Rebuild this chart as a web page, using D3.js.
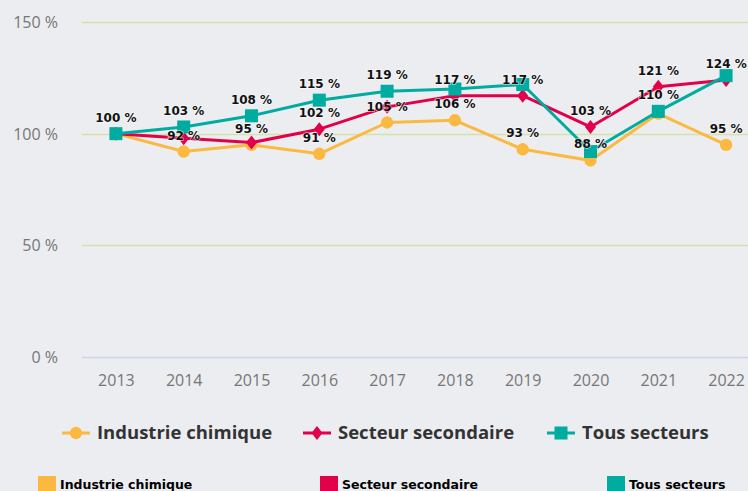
<!DOCTYPE html>
<html>
<head>
<meta charset="utf-8">
<script src="https://cdn.jsdelivr.net/npm/d3@7"></script>
<style>
  html, body { margin: 0; padding: 0; background: #ecedf0; }
  svg { display: block; }
</style>
</head>
<body>
<svg id="chart" width="748" height="491"></svg>
<script>
// ---- Data ----
const years = ["2013","2014","2015","2016","2017","2018","2019","2020","2021","2022"];
const industrie = [100, 92, 95, 91, 105, 106, 93, 88, 109, 95];
const secteur   = [100, 98, 96, 102, 112, 117, 117, 103, 121, 124];
const tous      = [100, 103, 108, 115, 119, 120, 122, 92, 110, 126];
// which data labels are visible (others hidden by overlap in original)
const industrieLabels = [false, true, true, true, true, true, true, true, false, true];
const secteurLabels   = [false, false, false, true, false, true, true, true, true, true];
const tousLabels      = [true, true, true, true, true, false, false, false, true, false];
const yTicks = [0, 50, 100, 150];
const seriesNames = ["Industrie chimique", "Secteur secondaire", "Tous secteurs"];
const seriesColors = ["#fbb941", "#e3004b", "#00aba0"];

const svg = d3.select("#chart");
const x = d3.scalePoint().domain(years).range([82, 760]).padding(0.5);
const y = d3.scaleLinear().domain([0, 150]).range([357, 22]);

// gridlines
const grid = svg.append("g");
grid.selectAll("line").data(yTicks).join("line")
  .attr("x1", 82).attr("x2", 760)
  .attr("y1", d => Math.round(y(d)) + 0.5).attr("y2", d => Math.round(y(d)) + 0.5)
  .attr("stroke", d => d === 0 ? "#ccd6eb" : "#d3e1ad")
  .attr("stroke-width", 1.5);

// y axis labels
const yAxis = d3.axisLeft(y).tickValues(yTicks).tickSize(0).tickPadding(0)
  .tickFormat(d => d + " %");
const gy = svg.append("g").attr("transform", "translate(58,0)").call(yAxis);
gy.select(".domain").remove();
gy.selectAll("text").attr("font-family", "'Open Sans', sans-serif")
  .attr("font-size", 16).attr("fill", "#767676").attr("dy", "0.35em");

// x axis labels
const xAxis = d3.axisBottom(x).tickSize(0).tickPadding(0);
const gx = svg.append("g").attr("transform", "translate(0,374)").call(xAxis);
gx.select(".domain").remove();
gx.selectAll("text").attr("font-family", "'Open Sans', sans-serif")
  .attr("font-size", 16).attr("fill", "#767676").attr("dy", "0.75em");

const series = [
  { name: seriesNames[0], values: industrie, labels: industrieLabels, color: seriesColors[0], marker: "circle" },
  { name: seriesNames[1], values: secteur, labels: secteurLabels, color: seriesColors[1], marker: "diamond" },
  { name: seriesNames[2], values: tous, labels: tousLabels, color: seriesColors[2], marker: "square" }
];

function markerPath(type) {
  if (type === "circle") return d3.symbol(d3.symbolCircle, 120)();
  if (type === "square") return "M-6.5,-6.5H6.5V6.5H-6.5Z";
  return "M0,-7L5.5,0L0,7L-5.5,0Z";
}

const line = d3.line().x((d, i) => x(years[i])).y(d => y(d));

series.forEach(s => {
  const g = svg.append("g");
  g.append("path").datum(s.values).attr("d", line)
    .attr("fill", "none").attr("stroke", s.color).attr("stroke-width", 3)
    .attr("stroke-linejoin", "round");
  g.selectAll("path.m").data(s.values).join("path").attr("class", "m")
    .attr("transform", (d, i) => `translate(${x(years[i])},${y(d)})`)
    .attr("d", markerPath(s.marker)).attr("fill", s.color);
});

// data labels
const lg = svg.append("g");
series.forEach(s => {
  s.values.forEach((v, i) => {
    if (!s.labels[i]) return;
    lg.append("text")
      .attr("x", x(years[i])).attr("y", y(v) - 12)
      .attr("text-anchor", "middle")
      .attr("font-family", "'DejaVu Sans', sans-serif")
      .attr("font-weight", "bold").attr("font-size", 12)
      .attr("fill", "#111")
      .attr("stroke", "#ffffff").attr("stroke-width", 1.5).attr("stroke-opacity", 0.6)
      .attr("paint-order", "stroke")
      .text(Math.round(v) + " %");
  });
});

// top legend
const legendX = [62, 303, 547];
series.forEach((s, k) => {
  const g = svg.append("g").attr("transform", `translate(${legendX[k]},433)`);
  g.append("line").attr("x1", 0).attr("x2", 28).attr("y1", 0).attr("y2", 0)
    .attr("stroke", s.color).attr("stroke-width", 3);
  g.append("path").attr("transform", "translate(14,0)").attr("d", markerPath(s.marker)).attr("fill", s.color);
  g.append("text").attr("x", 35).attr("y", 0).attr("dy", "0.35em")
    .attr("font-family", "'Open Sans', sans-serif").attr("font-weight", "bold")
    .attr("font-size", 18.5).attr("fill", "#333333").text(s.name);
});

// bottom legend
const legend2X = [38, 320, 607];
series.forEach((s, k) => {
  const g = svg.append("g").attr("transform", `translate(${legend2X[k]},476)`);
  g.append("rect").attr("width", 18).attr("height", 18).attr("fill", s.color);
  g.append("text").attr("x", 22).attr("y", 13)
    .attr("font-family", "'DejaVu Sans', sans-serif").attr("font-weight", "bold")
    .attr("font-size", 12.5).attr("fill", "#000").text(s.name);
});
</script>
</body>
</html>
